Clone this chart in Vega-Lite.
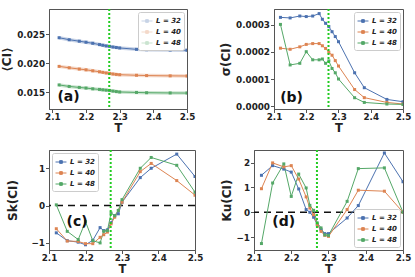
{
  "$schema": "https://vega.github.io/schema/vega-lite/v6.json",
  "padding": {"left": 0, "top": 7, "right": 2, "bottom": 0},
  "config": {
    "font": "DejaVu Sans",
    "view": {"stroke": "#555", "strokeWidth": 1},
    "axis": {"grid": false, "labelFontWeight": "bold", "labelFontSize": 8.8, "labelColor": "#222", "titleFontWeight": "bold", "titleFontSize": 12, "titleColor": "#222", "domainColor": "#555", "tickColor": "#555", "tickSize": 3.5, "labelPadding": 1, "titlePadding": 2, "labelOverlap": false, "labelFlush": false},
    "axisQuantitative": {"labelOverlap": false},
    "axisX": {"labelPadding": 0, "titlePadding": 1, "titleFontSize": 11.5, "labelOverlap": false},
    "axisY": {"labelOverlap": false},
    "legend": {"offset": 3, "padding": 3, "strokeColor": "#ccc", "fillColor": "white", "cornerRadius": 2, "labelFontSize": 7, "labelFontWeight": "bold", "labelFontStyle": "italic", "labelColor": "#222", "symbolType": "M-1,0H1M-0.25,-0.25H0.25V0.25H-0.25Z", "symbolSize": 120, "symbolStrokeWidth": 1, "rowPadding": 1, "labelOffset": 3}
  },
  "datasets": {
    "d": [
      {"T": 2.12, "L": 32, "mean": 0.02436, "sd": 0.000328, "sk": -0.73, "ku": 1.49},
      {"T": 2.15, "L": 32, "mean": 0.02402, "sd": 0.000326, "sk": -0.94, "ku": 1.88},
      {"T": 2.18, "L": 32, "mean": 0.02376, "sd": 0.000333, "sk": -0.98, "ku": 1.74},
      {"T": 2.20, "L": 32, "mean": 0.02358, "sd": 0.000331, "sk": -1.05, "ku": 1.62},
      {"T": 2.22, "L": 32, "mean": 0.02340, "sd": 0.000333, "sk": -0.93, "ku": 0.94},
      {"T": 2.24, "L": 32, "mean": 0.02318, "sd": 0.000342, "sk": -0.59, "ku": 0.11},
      {"T": 2.25, "L": 32, "mean": 0.02306, "sd": 0.000321, "sk": -0.67, "ku": 0.0},
      {"T": 2.26, "L": 32, "mean": 0.02295, "sd": 0.000306, "sk": -0.65, "ku": -0.2},
      {"T": 2.27, "L": 32, "mean": 0.02287, "sd": 0.000294, "sk": -0.46, "ku": -0.5},
      {"T": 2.28, "L": 32, "mean": 0.02276, "sd": 0.000275, "sk": -0.27, "ku": -0.7},
      {"T": 2.29, "L": 32, "mean": 0.02268, "sd": 0.000257, "sk": -0.22, "ku": -0.86},
      {"T": 2.30, "L": 32, "mean": 0.02260, "sd": 0.000238, "sk": 0.09, "ku": -0.86},
      {"T": 2.35, "L": 32, "mean": 0.02236, "sd": 0.000123, "sk": 0.75, "ku": -0.23},
      {"T": 2.38, "L": 32, "mean": 0.02230, "sd": 0.0000678, "sk": 1.0, "ku": 0.27},
      {"T": 2.45, "L": 32, "mean": 0.02224, "sd": 0.0000244, "sk": 1.38, "ku": 2.39},
      {"T": 2.50, "L": 32, "mean": 0.02220, "sd": 0.0000159, "sk": 0.78, "ku": 1.23},
      {"T": 2.12, "L": 40, "mean": 0.01943, "sd": 0.000214, "sk": -0.62, "ku": 0.95},
      {"T": 2.15, "L": 40, "mean": 0.01919, "sd": 0.000210, "sk": -0.95, "ku": 1.99},
      {"T": 2.18, "L": 40, "mean": 0.01897, "sd": 0.000219, "sk": -0.96, "ku": 1.83},
      {"T": 2.20, "L": 40, "mean": 0.01884, "sd": 0.000228, "sk": -1.02, "ku": 1.88},
      {"T": 2.22, "L": 40, "mean": 0.01867, "sd": 0.000231, "sk": -1.02, "ku": 1.34},
      {"T": 2.24, "L": 40, "mean": 0.01850, "sd": 0.000231, "sk": -0.85, "ku": 0.62},
      {"T": 2.25, "L": 40, "mean": 0.01840, "sd": 0.000223, "sk": -0.78, "ku": 0.17},
      {"T": 2.26, "L": 40, "mean": 0.01830, "sd": 0.000213, "sk": -0.71, "ku": -0.1},
      {"T": 2.27, "L": 40, "mean": 0.01822, "sd": 0.000199, "sk": -0.49, "ku": -0.5},
      {"T": 2.28, "L": 40, "mean": 0.01812, "sd": 0.000188, "sk": -0.31, "ku": -0.77},
      {"T": 2.29, "L": 40, "mean": 0.01805, "sd": 0.000168, "sk": -0.13, "ku": -0.93},
      {"T": 2.30, "L": 40, "mean": 0.01800, "sd": 0.000148, "sk": 0.09, "ku": -0.97},
      {"T": 2.35, "L": 40, "mean": 0.01790, "sd": 0.000061, "sk": 0.91, "ku": 0.11},
      {"T": 2.38, "L": 40, "mean": 0.01785, "sd": 0.000031, "sk": 1.13, "ku": 0.89},
      {"T": 2.45, "L": 40, "mean": 0.01780, "sd": 0.0000133, "sk": 0.67, "ku": 0.85},
      {"T": 2.50, "L": 40, "mean": 0.01778, "sd": 0.0000074, "sk": 0.28, "ku": 0.0},
      {"T": 2.12, "L": 48, "mean": 0.01624, "sd": 0.000302, "sk": 0.02, "ku": -1.26},
      {"T": 2.15, "L": 48, "mean": 0.01598, "sd": 0.000152, "sk": -0.69, "ku": 1.18},
      {"T": 2.18, "L": 48, "mean": 0.01581, "sd": 0.000158, "sk": -0.91, "ku": 1.95},
      {"T": 2.20, "L": 48, "mean": 0.01570, "sd": 0.000201, "sk": -0.43, "ku": 0.64},
      {"T": 2.22, "L": 48, "mean": 0.01557, "sd": 0.000171, "sk": -0.94, "ku": 1.54},
      {"T": 2.24, "L": 48, "mean": 0.01547, "sd": 0.000171, "sk": -1.0, "ku": 0.98},
      {"T": 2.25, "L": 48, "mean": 0.01540, "sd": 0.000174, "sk": -0.69, "ku": 0.28},
      {"T": 2.26, "L": 48, "mean": 0.01534, "sd": 0.000158, "sk": -0.67, "ku": 0.08},
      {"T": 2.27, "L": 48, "mean": 0.01528, "sd": 0.000167, "sk": -0.2, "ku": -0.43},
      {"T": 2.28, "L": 48, "mean": 0.01518, "sd": 0.000139, "sk": -0.27, "ku": -0.63},
      {"T": 2.29, "L": 48, "mean": 0.01510, "sd": 0.000123, "sk": -0.13, "ku": -0.91},
      {"T": 2.30, "L": 48, "mean": 0.01503, "sd": 0.000100, "sk": 0.16, "ku": -0.93},
      {"T": 2.35, "L": 48, "mean": 0.01495, "sd": 0.0000307, "sk": 1.0, "ku": 0.44},
      {"T": 2.38, "L": 48, "mean": 0.01490, "sd": 0.0000133, "sk": 1.29, "ku": 1.76},
      {"T": 2.45, "L": 48, "mean": 0.01486, "sd": 0.0000074, "sk": 1.08, "ku": 1.79},
      {"T": 2.50, "L": 48, "mean": 0.01484, "sd": 0.000006, "sk": 0.36, "ku": 0.0}
    ],
    "tc": [{"Tc": 2.269}],
    "zero": [{"z": 0}]
  },
  "spacing": 13,
  "resolve": {"scale": {"color": "independent"}, "legend": {"color": "independent"}},
  "vconcat": [
    {
      "bounds": "flush",
      "spacing": 87,
      "resolve": {"scale": {"color": "independent", "y": "independent"}, "legend": {"color": "independent"}},
      "hconcat": [
        {
          "width": 138, "height": 100,
          "layer": [
            {"data": {"name": "d"}, "mark": {"type": "line", "strokeWidth": 3.5, "opacity": 0.3, "clip": true},
             "encoding": {
               "x": {"field": "T", "type": "quantitative", "scale": {"domain": [2.09, 2.5], "nice": false, "zero": false}, "axis": {"values": [2.1, 2.2, 2.3, 2.4, 2.5], "format": ".1f", "labelOverlap": false}, "title": "T"},
               "y": {"field": "mean", "type": "quantitative", "scale": {"domain": [0.0121, 0.0293], "nice": false, "zero": false}, "axis": {"values": [0.015, 0.02, 0.025], "format": ".3f", "titlePadding": 3, "labelOverlap": false}, "title": "⟨CI⟩"},
               "color": {"field": "L", "type": "nominal", "scale": {"domain": [32, 40, 48], "range": ["#4C72B0", "#DD8452", "#55A868"]}, "legend": {"title": null, "orient": "top-right", "labelExpr": "'L = ' + datum.label"}}
             }},
            {"data": {"name": "d"}, "mark": {"type": "line", "strokeWidth": 1, "clip": true, "point": {"shape": "square", "size": 9, "filled": true}},
             "encoding": {
               "x": {"field": "T", "type": "quantitative", "axis": {"values": [2.1, 2.2, 2.3, 2.4, 2.5], "format": ".1f", "labelOverlap": false}, "title": "T"},
               "y": {"field": "mean", "type": "quantitative", "axis": {"values": [0.015, 0.02, 0.025], "format": ".3f", "titlePadding": 3, "labelOverlap": false}, "title": "⟨CI⟩"},
               "color": {"field": "L", "type": "nominal"}
             }},
            {"data": {"name": "tc"}, "mark": {"type": "rule", "color": "#22cc22", "strokeWidth": 2, "strokeDash": [2, 2]},
             "encoding": {"x": {"field": "Tc", "type": "quantitative", "axis": {"values": [2.1, 2.2, 2.3, 2.4, 2.5], "format": ".1f", "labelOverlap": false}, "title": "T"}}},
            {"data": {"values": [{"x": 2.115, "y": 0.0142, "t": "(a)"}]}, "mark": {"type": "text", "align": "left", "baseline": "middle", "fontSize": 14, "fontWeight": "bold", "color": "#111"},
             "encoding": {"x": {"field": "x", "type": "quantitative", "axis": {"values": [2.1, 2.2, 2.3, 2.4, 2.5], "format": ".1f", "labelOverlap": false}, "title": "T"}, "y": {"field": "y", "type": "quantitative", "axis": {"values": [0.015, 0.02, 0.025], "format": ".3f", "titlePadding": 3, "labelOverlap": false}, "title": "⟨CI⟩"}, "text": {"field": "t"}}}
          ]
        },
        {
          "width": 129, "height": 100,
          "layer": [
            {"data": {"name": "d"}, "mark": {"type": "line", "strokeWidth": 1, "clip": true, "point": {"shape": "square", "size": 9, "filled": true}},
             "encoding": {
               "x": {"field": "T", "type": "quantitative", "scale": {"domain": [2.1, 2.5], "nice": false, "zero": false}, "axis": {"values": [2.1, 2.2, 2.3, 2.4, 2.5], "format": ".1f", "labelOverlap": false}, "title": "T"},
               "y": {"field": "sd", "type": "quantitative", "scale": {"domain": [-0.000011, 0.000359], "nice": false, "zero": false}, "axis": {"values": [0, 0.0001, 0.0002, 0.0003], "format": ".4f", "titlePadding": 3, "labelOverlap": false}, "title": "σ(CI)"},
               "color": {"field": "L", "type": "nominal", "scale": {"domain": [32, 40, 48], "range": ["#4C72B0", "#DD8452", "#55A868"]}, "legend": {"title": null, "orient": "top-right", "labelExpr": "'L = ' + datum.label"}}
             }},
            {"data": {"name": "tc"}, "mark": {"type": "rule", "color": "#22cc22", "strokeWidth": 2, "strokeDash": [2, 2]},
             "encoding": {"x": {"field": "Tc", "type": "quantitative", "axis": {"values": [2.1, 2.2, 2.3, 2.4, 2.5], "format": ".1f", "labelOverlap": false}, "title": "T"}}},
            {"data": {"values": [{"x": 2.119, "y": 0.000029, "t": "(b)"}]}, "mark": {"type": "text", "align": "left", "baseline": "middle", "fontSize": 14, "fontWeight": "bold", "color": "#111"},
             "encoding": {"x": {"field": "x", "type": "quantitative", "axis": {"values": [2.1, 2.2, 2.3, 2.4, 2.5], "format": ".1f", "labelOverlap": false}, "title": "T"}, "y": {"field": "y", "type": "quantitative", "axis": {"values": [0, 0.0001, 0.0002, 0.0003], "format": ".4f", "titlePadding": 3, "labelOverlap": false}, "title": "σ(CI)"}, "text": {"field": "t"}}}
          ]
        }
      ]
    },
    {
      "bounds": "flush",
      "spacing": 59,
      "resolve": {"scale": {"color": "independent", "y": "independent"}, "legend": {"color": "independent"}},
      "hconcat": [
        {
          "width": 146, "height": 100,
          "layer": [
            {"data": {"name": "zero"}, "mark": {"type": "rule", "color": "#111", "strokeWidth": 1.5, "strokeDash": [7, 5]},
             "encoding": {"y": {"field": "z", "type": "quantitative", "axis": {"values": [-1, 0, 1], "format": "d", "titlePadding": 12, "labelOverlap": false}, "title": "Sk(CI)"}}},
            {"data": {"name": "d"}, "mark": {"type": "line", "strokeWidth": 1, "clip": true, "point": {"shape": "square", "size": 9, "filled": true}},
             "encoding": {
               "x": {"field": "T", "type": "quantitative", "scale": {"domain": [2.1, 2.5], "nice": false, "zero": false}, "axis": {"values": [2.1, 2.2, 2.3, 2.4, 2.5], "format": ".1f", "labelOverlap": false}, "title": "T"},
               "y": {"field": "sk", "type": "quantitative", "scale": {"domain": [-1.19, 1.49], "nice": false, "zero": false}, "axis": {"values": [-1, 0, 1], "format": "d", "titlePadding": 12, "labelOverlap": false}, "title": "Sk(CI)"},
               "color": {"field": "L", "type": "nominal", "scale": {"domain": [32, 40, 48], "range": ["#4C72B0", "#DD8452", "#55A868"]}, "legend": {"title": null, "orient": "top-left", "labelExpr": "'L = ' + datum.label"}}
             }},
            {"data": {"name": "tc"}, "mark": {"type": "rule", "color": "#22cc22", "strokeWidth": 2, "strokeDash": [2, 2]},
             "encoding": {"x": {"field": "Tc", "type": "quantitative", "axis": {"values": [2.1, 2.2, 2.3, 2.4, 2.5], "format": ".1f", "labelOverlap": false}, "title": "T"}}},
            {"data": {"values": [{"x": 2.148, "y": -0.43, "t": "(c)"}]}, "mark": {"type": "text", "align": "left", "baseline": "middle", "fontSize": 14, "fontWeight": "bold", "color": "#111"},
             "encoding": {"x": {"field": "x", "type": "quantitative", "axis": {"values": [2.1, 2.2, 2.3, 2.4, 2.5], "format": ".1f", "labelOverlap": false}, "title": "T"}, "y": {"field": "y", "type": "quantitative", "axis": {"values": [-1, 0, 1], "format": "d", "titlePadding": 12, "labelOverlap": false}, "title": "Sk(CI)"}, "text": {"field": "t"}}}
          ]
        },
        {
          "width": 149, "height": 100,
          "layer": [
            {"data": {"name": "zero"}, "mark": {"type": "rule", "color": "#111", "strokeWidth": 1.5, "strokeDash": [7, 5]},
             "encoding": {"y": {"field": "z", "type": "quantitative", "axis": {"values": [-1, 0, 1, 2], "format": "d", "titlePadding": 3, "labelOverlap": false}, "title": "Ku(CI)"}}},
            {"data": {"name": "d"}, "mark": {"type": "line", "strokeWidth": 1, "clip": true, "point": {"shape": "square", "size": 9, "filled": true}},
             "encoding": {
               "x": {"field": "T", "type": "quantitative", "scale": {"domain": [2.1, 2.5], "nice": false, "zero": false}, "axis": {"values": [2.1, 2.2, 2.3, 2.4, 2.5], "format": ".1f", "labelOverlap": false}, "title": "T"},
               "y": {"field": "ku", "type": "quantitative", "scale": {"domain": [-1.52, 2.51], "nice": false, "zero": false}, "axis": {"values": [-1, 0, 1, 2], "format": "d", "titlePadding": 3, "labelOverlap": false}, "title": "Ku(CI)"},
               "color": {"field": "L", "type": "nominal", "scale": {"domain": [32, 40, 48], "range": ["#4C72B0", "#DD8452", "#55A868"]}, "legend": {"title": null, "orient": "bottom-right", "labelExpr": "'L = ' + datum.label"}}
             }},
            {"data": {"name": "tc"}, "mark": {"type": "rule", "color": "#22cc22", "strokeWidth": 2, "strokeDash": [2, 2]},
             "encoding": {"x": {"field": "Tc", "type": "quantitative", "axis": {"values": [2.1, 2.2, 2.3, 2.4, 2.5], "format": ".1f", "labelOverlap": false}, "title": "T"}}},
            {"data": {"values": [{"x": 2.149, "y": -0.4, "t": "(d)"}]}, "mark": {"type": "text", "align": "left", "baseline": "middle", "fontSize": 14, "fontWeight": "bold", "color": "#111"},
             "encoding": {"x": {"field": "x", "type": "quantitative", "axis": {"values": [2.1, 2.2, 2.3, 2.4, 2.5], "format": ".1f", "labelOverlap": false}, "title": "T"}, "y": {"field": "y", "type": "quantitative", "axis": {"values": [-1, 0, 1, 2], "format": "d", "titlePadding": 3, "labelOverlap": false}, "title": "Ku(CI)"}, "text": {"field": "t"}}}
          ]
        }
      ]
    }
  ]
}
